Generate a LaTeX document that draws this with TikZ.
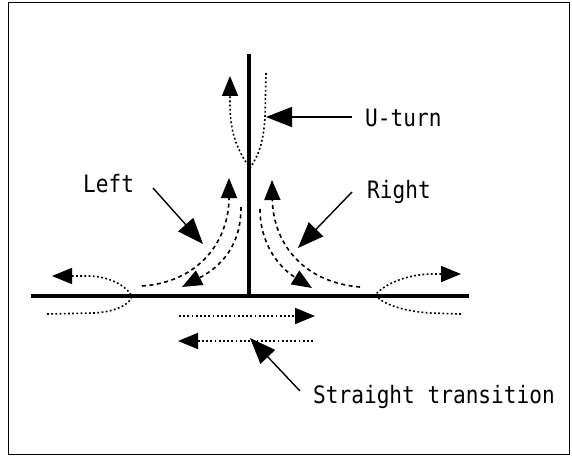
\documentclass[tikz,border=0pt]{standalone}
\usepackage{fontspec}
\newfontfamily\lblfont[FakeStretch=0.88]{DejaVu Sans Mono}
\usetikzlibrary{arrows.meta}
\begin{document}
\begin{tikzpicture}[x=1pt,y=-1pt,
  frame/.style={line width=1pt},
  road/.style={line width=3.4pt},
  trk/.style={line width=1.6pt, dash pattern=on 1.8pt off 2.4pt},
  trkarrow/.style={trk, -{Triangle[length=20pt,width=16pt]}},
  turnarrow/.style={line width=1.6pt, dash pattern=on 4pt off 3.5pt, -{Triangle[length=20pt,width=16pt]}},
  pointer/.style={line width=1.4pt, -{Triangle[length=26pt,width=20pt]}},
  lbl/.style={font=\lblfont\fontsize{24}{28}\selectfont, inner sep=0pt, anchor=base west}]
\useasboundingbox (0,0) rectangle (572,457);
% frame
\draw[frame] (8,3) rectangle (569,454);
% roads
\coordinate (vtop) at (249,54);
\coordinate (vbot) at (249,296);
\coordinate (hl) at (31,296);
\coordinate (hr) at (469,296);
\draw[road] (vtop) -- (vbot);
\draw[road] (hl) -- (hr);
% U-turn on vertical road
\draw[trkarrow] (266,73) -- (265,118) .. controls (263,145) and (258,156) .. (250,168)
  .. controls (237,150) and (230,132) .. (230,105) -- (230,76);
% left turns
\draw[turnarrow] (142,286) .. controls (200,282) and (229,240) .. (229,178);
\draw[turnarrow] (241,207) .. controls (241,245) and (222,266) .. (182,287);
% right turns
\draw[turnarrow] (360,287) .. controls (300,282) and (273,240) .. (272,180);
\draw[turnarrow] (260,209) .. controls (260,245) and (280,268) .. (312,288);
% U-turns on horizontal road
\draw[trkarrow] (47,314) -- (95,313) .. controls (120,311) and (130,303) .. (132,296)
  .. controls (125,285) and (110,277) .. (90,276) -- (52,276);
\draw[trkarrow] (461,314) -- (430,313) .. controls (400,311) and (382,303) .. (375,295)
  .. controls (385,284) and (405,275) .. (430,274) -- (461,274);
% straight transitions
\draw[trkarrow] (179,316) -- (315,316);
\draw[trkarrow] (313,341) -- (178,341);
% labels
\node[lbl] (ut) at (365,127) {U-turn};
\node[lbl] (lt) at (83,192) {Left};
\node[lbl] (rt) at (367,198) {Right};
\node[lbl] (st) at (313,403) {Straight transition};
% pointers
\coordinate (uts) at (352,117);
\coordinate (utt) at (266,117);
\coordinate (lts) at (153,188);
\coordinate (ltt) at (203,244);
\coordinate (rts) at (352,192);
\coordinate (rtt) at (298,248);
\coordinate (sts) at (300,391);
\coordinate (stt) at (250,338);
\draw[pointer] (uts) -- (utt);
\draw[pointer] (lts) -- (ltt);
\draw[pointer] (rts) -- (rtt);
\draw[pointer] (sts) -- (stt);
\end{tikzpicture}
\end{document}
